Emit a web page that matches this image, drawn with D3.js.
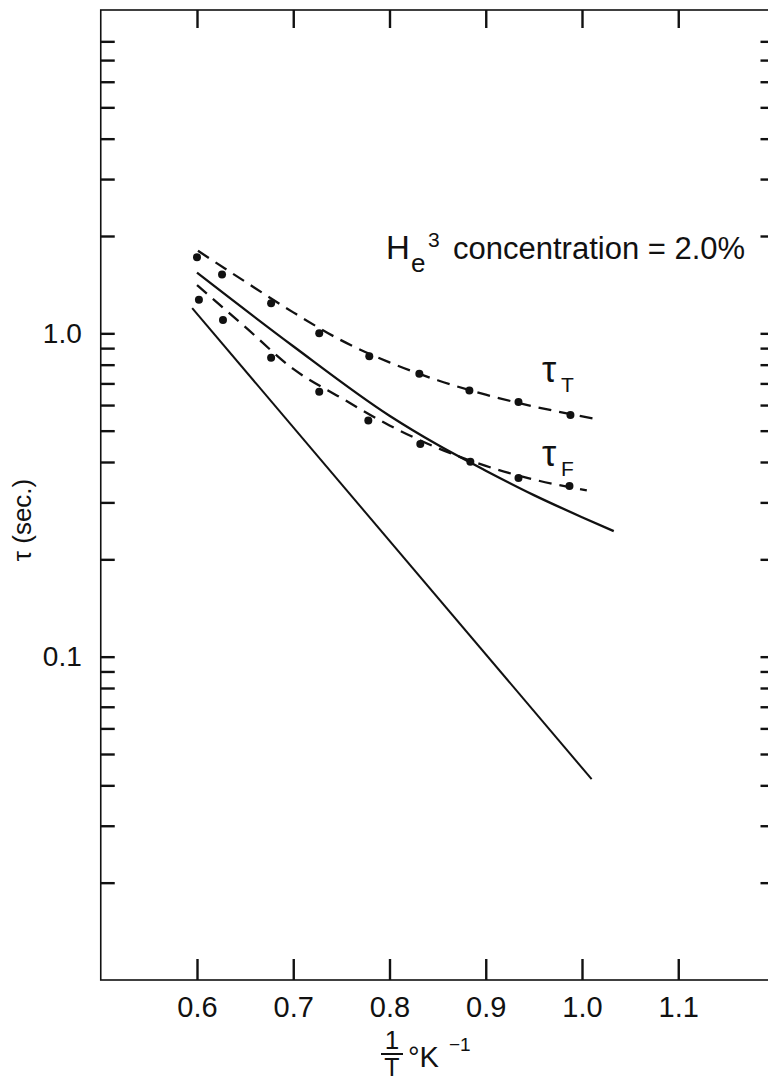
<!DOCTYPE html>
<html>
<head>
<meta charset="utf-8">
<script src="https://cdn.jsdelivr.net/npm/d3@7/dist/d3.min.js"></script>
<style>
  html, body { margin: 0; padding: 0; background: #fff; }
  svg { display: block; }
  text { font-family: "Liberation Sans", Arial, sans-serif; fill: #111; }
</style>
</head>
<body>
<svg id="chart" width="768" height="1080"></svg>
<script>
// Measured relaxation times (sec) vs 1/T (K^-1), He3 concentration 2.0%
const tauTX = [0.600, 0.626, 0.677, 0.727, 0.779, 0.831, 0.883, 0.934, 0.988];
const tauTY = [1.72, 1.52, 1.24, 1.00, 0.85, 0.75, 0.666, 0.613, 0.559];
const tauFX = [0.602, 0.627, 0.677, 0.727, 0.778, 0.832, 0.884, 0.934, 0.987];
const tauFY = [1.27, 1.10, 0.84, 0.66, 0.538, 0.455, 0.401, 0.357, 0.337];

// Dashed fits through the data
const fitTX = [0.601, 0.65, 0.70, 0.75, 0.80, 0.85, 0.90, 0.95, 1.015];
const fitTY = [1.80, 1.445, 1.161, 0.951, 0.813, 0.716, 0.646, 0.594, 0.543];
const fitFX = [0.600, 0.65, 0.70, 0.75, 0.80, 0.85, 0.90, 0.95, 1.005];
const fitFY = [1.41, 1.047, 0.776, 0.631, 0.519, 0.442, 0.389, 0.353, 0.327];

// Calculated curves (solid)
const calcAX = [0.600, 0.70, 0.80, 0.85, 0.90, 0.95, 1.00, 1.033];
const calcAY = [1.54, 0.912, 0.556, 0.452, 0.376, 0.316, 0.270, 0.2445];
const calcBX = [0.595, 1.010];
const calcBY = [1.197, 0.0418];

// Axes
const xTicks = [0.6, 0.7, 0.8, 0.9, 1.0, 1.1];
const xTickLabels = ["0.6", "0.7", "0.8", "0.9", "1.0", "1.1"];
const yTicks = [8, 7, 6, 5, 4, 3, 2, 1, 0.9, 0.8, 0.7, 0.6, 0.5, 0.4, 0.3, 0.2,
                0.1, 0.09, 0.08, 0.07, 0.06, 0.05, 0.04, 0.03, 0.02];
const yLabelValues = [1, 0.1];
const yLabelTexts = ["1.0", "0.1"];

const svg = d3.select("#chart");
const x = d3.scaleLinear().domain([0.5, 1.2]).range([100.75, 774.5]);
const y = d3.scaleLog().domain([0.01, 10]).range([980, 10]);

const X0 = x(0.5), X1 = x(1.2), Y0 = y(0.01), Y1 = y(10);

// Frame
svg.append("rect")
  .attr("x", X0).attr("y", Y1)
  .attr("width", X1 - X0).attr("height", Y0 - Y1)
  .attr("fill", "none").attr("stroke", "#111").attr("stroke-width", 1.6);

function styleAxis(g) {
  g.select(".domain").remove();
  g.selectAll(".tick line").attr("stroke", "#111").attr("stroke-width", 2.4);
  g.selectAll(".tick text").style("font-family", "Liberation Sans, Arial, sans-serif")
    .attr("fill", "#111");
}

// Bottom axis with labels
svg.append("g")
  .attr("transform", `translate(0,${Y0})`)
  .call(d3.axisBottom(x).tickValues(xTicks)
    .tickFormat((d, i) => xTickLabels[i])
    .tickSizeInner(-21).tickSizeOuter(0).tickPadding(16))
  .call(styleAxis)
  .selectAll(".tick text").style("font-size", "29px");

// Top axis (ticks only)
svg.append("g")
  .attr("transform", `translate(0,${Y1})`)
  .call(d3.axisTop(x).tickValues(xTicks).tickFormat("")
    .tickSizeInner(-18).tickSizeOuter(0))
  .call(styleAxis);

// Left axis
svg.append("g")
  .attr("transform", `translate(${X0},0)`)
  .call(d3.axisLeft(y).tickValues(yTicks)
    .tickFormat(d => {
      const k = yLabelValues.findIndex(v => Math.abs(v - d) < 1e-9);
      return k >= 0 ? yLabelTexts[k] : "";
    })
    .tickSizeInner(-14).tickSizeOuter(0).tickPadding(19))
  .call(styleAxis)
  .selectAll(".tick text").style("font-size", "28px");

// Right axis (ticks only)
svg.append("g")
  .attr("transform", `translate(${X1},0)`)
  .call(d3.axisRight(y).tickValues(yTicks).tickFormat("")
    .tickSizeInner(-14).tickSizeOuter(0))
  .call(styleAxis);

// Curves
const pts = (xs, ys) => xs.map((v, i) => [v, ys[i]]);
const curve = d3.line().x(d => x(d[0])).y(d => y(d[1])).curve(d3.curveMonotoneX);

svg.append("path").datum(pts(calcAX, calcAY)).attr("d", curve)
  .attr("fill", "none").attr("stroke", "#111").attr("stroke-width", 2.3);
svg.append("path").datum(pts(calcBX, calcBY)).attr("d", curve)
  .attr("fill", "none").attr("stroke", "#111").attr("stroke-width", 2);
svg.append("path").datum(pts(fitTX, fitTY)).attr("d", curve)
  .attr("fill", "none").attr("stroke", "#111").attr("stroke-width", 2.3)
  .attr("stroke-dasharray", "13,8");
svg.append("path").datum(pts(fitFX, fitFY)).attr("d", curve)
  .attr("fill", "none").attr("stroke", "#111").attr("stroke-width", 2.3)
  .attr("stroke-dasharray", "13,8");

// Data points
svg.append("g").selectAll("circle").data(pts(tauTX, tauTY)).join("circle")
  .attr("cx", d => x(d[0])).attr("cy", d => y(d[1])).attr("r", 4).attr("fill", "#111");
svg.append("g").selectAll("circle").data(pts(tauFX, tauFY)).join("circle")
  .attr("cx", d => x(d[0])).attr("cy", d => y(d[1])).attr("r", 4).attr("fill", "#111");

// Concentration note
const note = svg.append("g");
note.append("text").attr("x", 386).attr("y", 259).style("font-size", "33px").text("H");
note.append("text").attr("x", 411).attr("y", 272).style("font-size", "26px").text("e");
note.append("text").attr("x", 428).attr("y", 247).style("font-size", "21px").text("3");
note.append("text").attr("x", 453).attr("y", 259).style("font-size", "31px")
  .text("concentration = 2.0%");

// Curve labels
function tauLabel(px, py, sub) {
  const g = svg.append("g");
  g.append("text").attr("x", px).attr("y", py).style("font-size", "36px").text("τ");
  g.append("text").attr("x", px + 19).attr("y", py + 10).style("font-size", "21px").text(sub);
}
tauLabel(542, 382, "T");
tauLabel(542, 466, "F");

// Y axis title
svg.append("text")
  .attr("transform", "translate(31,520) rotate(-90)")
  .attr("text-anchor", "middle")
  .style("font-size", "26px")
  .text("τ (sec.)");

// X axis title: 1/T °K^-1
const xt = svg.append("g");
xt.append("text").attr("x", 392).attr("y", 1049).attr("text-anchor", "middle")
  .style("font-size", "26px").text("1");
xt.append("line").attr("x1", 381).attr("x2", 403).attr("y1", 1054).attr("y2", 1054)
  .attr("stroke", "#111").attr("stroke-width", 2);
xt.append("text").attr("x", 392).attr("y", 1076).attr("text-anchor", "middle")
  .style("font-size", "25px").text("T");
xt.append("text").attr("x", 408).attr("y", 1067).style("font-size", "29px").text("°K");
xt.append("text").attr("x", 449).attr("y", 1051).style("font-size", "19px").text("−1");
</script>
</body>
</html>
